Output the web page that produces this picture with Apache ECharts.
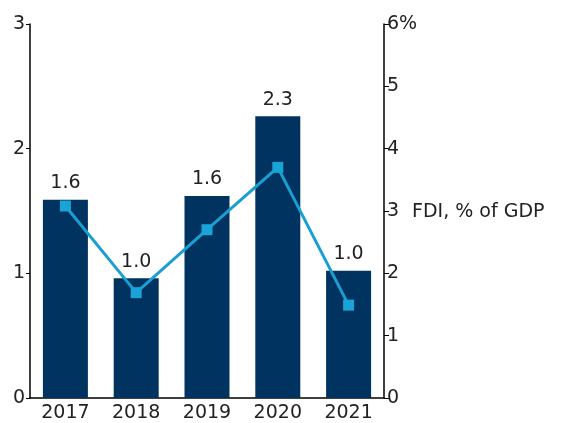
<!DOCTYPE html>
<html>
<head>
<meta charset="utf-8">
<script src="https://cdn.jsdelivr.net/npm/echarts@6/dist/echarts.min.js"></script>
<style>
  html, body { margin: 0; padding: 0; background: #fff; }
  #chart { width: 566px; height: 423px; }
</style>
</head>
<body>
<div id="chart"></div>
<script>
const years = ["2017", "2018", "2019", "2020", "2021"];
const fdiValues = [1.59, 0.96, 1.62, 2.26, 1.02];
const fdiShare = [3.08, 1.69, 2.70, 3.70, 1.49];

const chart = echarts.init(document.getElementById("chart"));
const font = "'DejaVu Sans', Verdana, sans-serif";
const textColor = "#222";
const fs = 19;

const option = {
  animation: false,
  grid: { left: 30, right: 182, top: 24, bottom: 25 },
  xAxis: {
    type: "category",
    data: years,
    axisLine: { lineStyle: { color: "#000", width: 1.5 } },
    axisTick: { show: false },
    axisLabel: { color: textColor, fontFamily: font, fontSize: fs, margin: 6 },
  },
  yAxis: [
    {
      type: "value",
      min: 0,
      max: 3,
      interval: 1,
      splitLine: { show: false },
      axisLine: { show: true, lineStyle: { color: "#000", width: 1.5 } },
      axisTick: { show: true, length: 4, lineStyle: { color: "#000" } },
      axisLabel: { color: textColor, fontFamily: font, fontSize: fs, margin: 5 },
    },
    {
      type: "value",
      min: 0,
      max: 6,
      interval: 1,
      position: "right",
      splitLine: { show: false },
      axisLine: { show: true, lineStyle: { color: "#000", width: 1.5 } },
      axisTick: { show: true, length: 5, lineStyle: { color: "#000" } },
      axisLabel: {
        color: textColor,
        fontFamily: font,
        fontSize: fs,
        margin: 3,
        formatter: (v) => (v === 6 ? "6%" : String(v)),
      },
    },
  ],
  graphic: [
    {
      type: "text",
      left: 412,
      top: 203,
      style: { text: "FDI, % of GDP", fill: textColor, font: fs + "px " + font },
    },
  ],
  series: [
    {
      type: "bar",
      data: fdiValues,
      barWidth: 45,
      itemStyle: { color: "#00335f" },
      label: {
        show: true,
        position: "top",
        distance: 7,
        color: textColor,
        fontFamily: font,
        fontSize: fs,
        formatter: (p) => p.value.toFixed(1),
      },
    },
    {
      type: "line",
      yAxisIndex: 1,
      data: fdiShare,
      symbol: "rect",
      symbolSize: 11,
      lineStyle: { color: "#1a9fd2", width: 3 },
      itemStyle: { color: "#1aa3d6" },
    },
  ],
};

chart.setOption(option);
window.onresize = function () {
  chart.resize();
};
</script>
</body>
</html>
